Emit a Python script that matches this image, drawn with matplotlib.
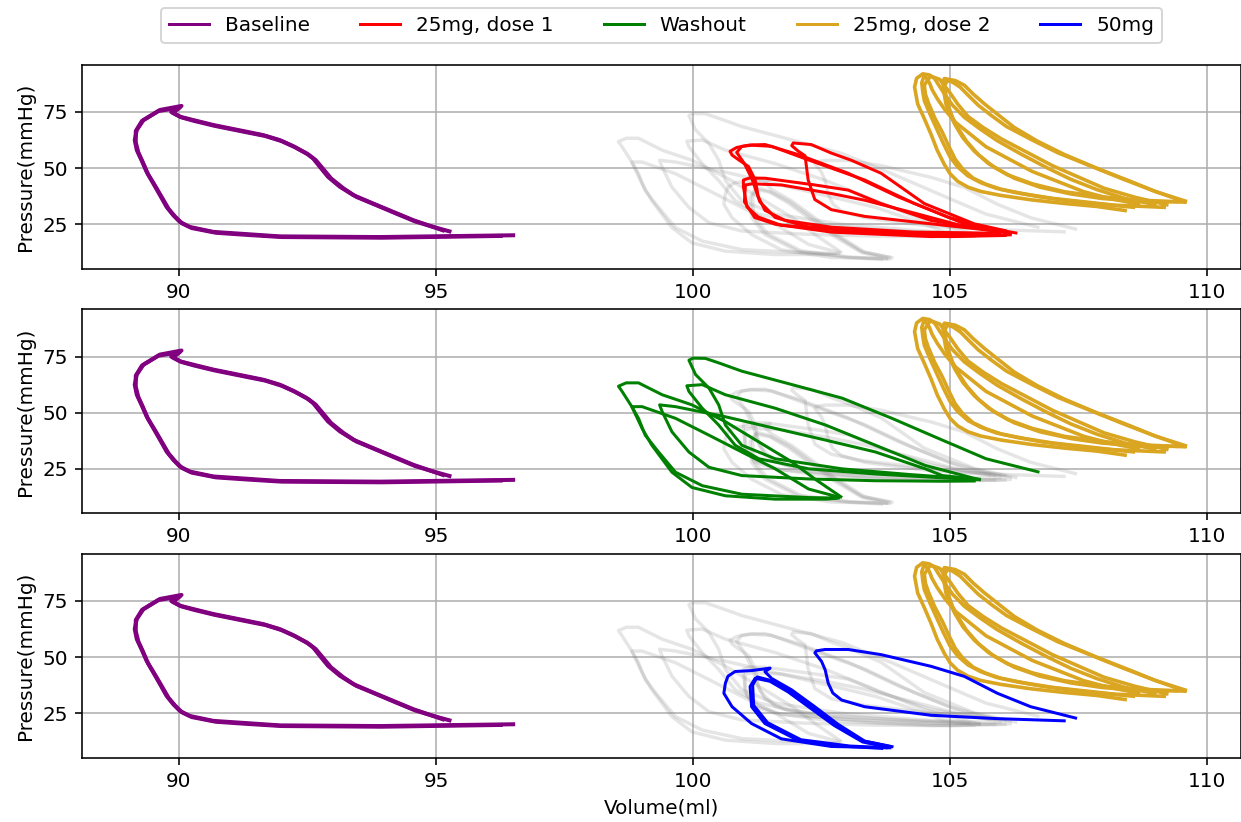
import matplotlib
matplotlib.use("Agg")
import matplotlib.pyplot as plt
from matplotlib.lines import Line2D

# ---------------- data (Volume in ml, Pressure in mmHg) ----------------
series_names = ["Baseline", "25mg, dose 1", "Washout", "25mg, dose 2", "50mg"]
series_colors = ["purple", "red", "green", "goldenrod", "blue"]

baseline_volume = [
    [95.17, 94.88, 94.56, 94.17, 93.78, 93.39, 93.13, 92.90, 92.74, 92.61, 92.48, 92.22, 91.96,
     91.64, 91.32, 90.67, 90.28, 90.02, 89.85, 90.05, 89.63, 89.31, 89.18, 89.14, 89.18, 89.27,
     89.37, 89.50, 89.63, 89.76, 89.89, 90.02, 90.21, 90.67, 91.32, 91.96, 93.91, 96.54],
    [95.30, 94.95, 94.60, 94.22, 93.85, 93.45, 93.20, 92.96, 92.80, 92.66, 92.52, 92.26, 92.00,
     91.68, 91.35, 90.70, 90.30, 90.05, 89.88, 90.02, 89.60, 89.28, 89.16, 89.16, 89.21, 89.30,
     89.40, 89.54, 89.67, 89.80, 89.93, 90.06, 90.25, 90.72, 91.36, 92.00, 93.95, 96.30],
]
baseline_pressure = [
    [22.0, 24.3, 26.8, 30.5, 34.2, 38.0, 41.7, 46.1, 50.6, 54.3, 56.6, 59.8, 62.5,
     64.7, 66.2, 69.2, 71.4, 72.9, 75.0, 77.7, 75.9, 71.4, 67.0, 62.5, 58.0, 53.6,
     48.4, 43.2, 38.0, 32.7, 29.0, 26.0, 23.8, 21.6, 20.6, 19.6, 19.3, 20.1],
    [21.6, 23.8, 26.2, 29.8, 33.4, 37.2, 41.0, 45.4, 49.8, 53.6, 56.0, 59.3, 62.0,
     64.3, 65.8, 68.8, 71.0, 72.6, 74.6, 77.0, 75.4, 71.0, 66.5, 61.5, 57.0, 52.5,
     47.2, 42.0, 36.9, 31.8, 28.3, 25.4, 23.3, 21.2, 20.2, 19.3, 19.0, 19.8],
]

dose1_volume = [
    [106.00, 104.96, 103.99, 103.02, 102.05, 101.40, 101.10, 100.85, 100.72, 100.76, 100.90,
     101.08, 101.21, 101.27, 101.40, 101.79, 102.69, 104.30, 106.00],
    [106.10, 105.47, 104.50, 103.66, 103.08, 102.69, 102.30, 101.95, 101.92, 102.05, 102.18,
     102.24, 102.37, 102.69, 103.34, 104.63, 105.90],
    [105.80, 104.63, 103.66, 103.02, 102.37, 101.40, 101.10, 100.98, 100.98, 101.05, 101.27,
     101.72, 103.02, 104.63, 105.90],
    [106.20, 105.20, 104.30, 103.34, 102.69, 101.72, 101.15, 101.02, 101.00, 101.20, 101.60,
     102.69, 104.63, 106.20],
    [106.31, 105.28, 104.31, 103.34, 102.24, 101.53, 101.15, 100.95, 100.85, 101.00, 101.15,
     101.30, 101.60, 102.20, 103.50, 105.00, 106.10],
]
dose1_pressure = [
    [21.5, 28.2, 37.2, 47.7, 56.0, 60.5, 60.3, 59.2, 57.5, 55.8, 53.5, 50.7, 44.7, 37.2,
     31.2, 26.7, 23.7, 21.5, 21.0],
    [22.0, 25.2, 34.2, 47.7, 53.5, 56.7, 60.5, 61.2, 60.0, 57.5, 55.5, 44.7, 36.0, 31.5, 28.5,
     25.2, 22.0],
    [22.2, 26.7, 34.2, 40.2, 42.5, 45.5, 45.6, 44.7, 41.7, 32.7, 28.2, 24.5, 22.2, 20.7, 20.0],
    [21.0, 24.5, 30.0, 35.7, 38.7, 42.5, 43.0, 42.5, 35.0, 28.0, 25.0, 21.5, 19.5, 20.3],
    [21.0, 25.2, 34.2, 44.7, 53.7, 59.7, 60.2, 59.7, 57.0, 52.0, 45.0, 35.0, 28.0, 24.0,
     21.0, 19.5, 20.0],
]

washout_volume = [
    [106.74, 105.70, 104.78, 103.87, 102.90, 101.93, 100.95, 100.50, 100.24, 100.00, 99.92,
     100.05, 100.31, 100.50, 100.63, 100.95, 101.60, 102.90, 104.20, 105.40],
    [102.90, 102.40, 101.93, 101.28, 100.63, 99.98, 99.40, 99.07, 98.94, 98.70, 98.55, 98.62,
     98.81, 99.01, 99.20, 99.59, 99.98, 100.63, 101.60, 102.58, 102.85],
    [102.87, 102.25, 101.60, 100.95, 100.31, 99.66, 99.01, 98.81, 98.94, 99.07, 99.33, 99.66,
     100.18, 100.95, 102.25, 102.80],
    [105.60, 104.85, 104.52, 103.55, 102.58, 101.60, 100.63, 99.66, 99.35, 99.40, 99.59,
     99.92, 100.31, 100.95, 102.25, 103.55, 104.85, 105.50],
    [105.60, 104.52, 103.55, 102.58, 101.60, 100.63, 100.18, 99.88, 99.92, 100.18, 100.50,
     100.82, 101.28, 102.25, 103.55, 104.85, 105.55],
]
washout_pressure = [
    [23.5, 29.5, 38.5, 47.5, 56.5, 62.5, 68.5, 72.2, 74.2, 74.3, 73.4, 67.0, 61.0, 53.5, 44.5,
     35.5, 29.5, 25.0, 22.5, 20.5],
    [12.2, 20.0, 28.0, 37.0, 46.0, 53.5, 58.0, 61.8, 63.3, 63.3, 61.8, 59.5, 52.7, 43.0, 35.5,
     23.5, 16.7, 13.0, 11.5, 11.5, 12.0],
    [12.2, 16.0, 25.0, 32.5, 40.0, 47.5, 52.7, 52.7, 47.5, 40.0, 32.5, 23.5, 17.5, 13.7, 12.2,
     12.0],
    [20.3, 22.0, 25.0, 32.5, 37.8, 43.0, 48.2, 52.7, 53.5, 50.5, 41.5, 32.5, 25.7, 22.0, 20.5,
     19.7, 19.5, 19.6],
    [20.0, 26.5, 35.5, 44.5, 52.0, 58.0, 62.5, 62.0, 59.5, 52.0, 44.5, 35.5, 29.5, 25.0, 22.7,
     21.0, 20.2],
]

dose2_volume = [
    [109.02, 108.40, 107.86, 107.35, 106.89, 106.40, 105.92, 105.58, 105.28, 105.05, 104.89,
     104.78, 104.70, 104.60, 104.47, 104.35, 104.31, 104.37, 104.50, 104.63, 104.75, 104.89,
     105.00, 105.15, 105.35, 105.60, 106.00, 106.57, 107.20, 107.86, 108.44],
    [108.70, 108.10, 107.60, 107.10, 106.60, 106.15, 105.70, 105.40, 105.10, 104.90, 104.75,
     104.65, 104.60, 104.50, 104.45, 104.47, 104.50, 104.62, 104.75, 104.87, 105.00, 105.15,
     105.35, 105.60, 105.90, 106.30, 106.80, 107.30, 107.90, 108.60],
    [109.25, 108.60, 108.00, 107.50, 107.00, 106.50, 106.00, 105.65, 105.35, 105.15, 105.00,
     104.90, 104.80, 104.62, 104.50, 104.52, 104.58, 104.70, 104.85, 104.97, 105.10, 105.25,
     105.45, 105.70, 106.00, 106.45, 107.00, 107.60, 108.20, 109.20],
    [109.61, 109.00, 108.51, 107.85, 107.22, 106.70, 106.25, 105.95, 105.67, 105.45, 105.28,
     105.10, 104.89, 104.86, 104.88, 104.92, 105.00, 105.09, 105.25, 105.47, 105.75, 106.12,
     106.60, 107.22, 107.85, 108.51, 109.60],
    [109.50, 108.95, 108.40, 107.75, 107.10, 106.60, 106.10, 105.80, 105.55, 105.35, 105.20,
     105.05, 104.95, 104.90, 104.92, 104.97, 105.05, 105.15, 105.32, 105.55, 105.85, 106.25,
     106.75, 107.35, 107.95, 108.60, 109.45],
]
dose2_pressure = [
    [33.6, 36.5, 40.4, 45.0, 50.1, 56.0, 62.2, 67.5, 72.6, 78.0, 83.1, 87.0, 89.9, 91.5, 92.0,
     90.0, 86.1, 78.6, 72.0, 65.1, 58.0, 51.6, 47.5, 44.1, 41.5, 39.6, 37.8, 35.9, 34.3, 32.9,
     31.0],
    [33.8, 36.5, 39.5, 44.0, 48.5, 54.0, 59.5, 65.0, 70.5, 76.0, 81.0, 85.0, 88.0, 91.5, 88.0,
     84.0, 80.0, 73.5, 67.0, 61.0, 55.0, 50.5, 46.5, 43.5, 41.0, 39.0, 37.0, 35.5, 34.0, 32.5],
    [33.5, 37.0, 41.0, 46.0, 51.0, 57.0, 63.0, 68.0, 73.0, 78.5, 83.5, 86.5, 89.5, 91.0, 87.0,
     83.0, 79.0, 72.5, 66.0, 60.0, 54.0, 49.5, 45.5, 42.8, 40.5, 38.5, 36.5, 35.0, 33.5, 32.5],
    [35.1, 39.5, 44.1, 50.0, 56.1, 62.0, 68.1, 73.5, 78.6, 83.0, 86.9, 89.0, 89.9, 88.4, 84.0,
     78.6, 74.0, 69.6, 63.5, 57.6, 52.0, 47.0, 43.0, 39.5, 37.5, 35.9, 34.8],
    [35.5, 40.0, 44.8, 50.8, 56.8, 62.5, 68.5, 73.5, 78.0, 82.5, 86.0, 88.3, 89.0, 87.0, 82.0,
     77.5, 72.5, 68.0, 62.0, 56.0, 50.5, 45.5, 41.5, 38.5, 36.5, 35.3, 35.0],
]

dose50_volume = [
    [107.47, 106.57, 105.92, 105.28, 104.63, 103.66, 103.02, 102.57, 102.40, 102.37, 102.50,
     102.57, 102.63, 102.72, 102.89, 103.34, 104.63, 105.92, 107.25],
    [103.90, 103.34, 102.82, 102.37, 101.92, 101.53, 101.40, 101.50, 101.14, 100.82, 100.68,
     100.63, 100.60, 100.76, 101.14, 101.72, 102.69, 103.86],
    [103.80, 103.30, 102.75, 102.30, 101.85, 101.50, 101.21, 101.11, 101.14, 101.40, 102.05,
     103.02, 103.70],
    [103.85, 103.28, 102.78, 102.33, 101.88, 101.48, 101.25, 101.16, 101.18, 101.45, 102.10,
     103.05, 103.80],
]
dose50_pressure = [
    [22.7, 27.9, 33.9, 41.4, 45.9, 51.1, 53.4, 53.4, 52.8, 51.9, 48.1, 44.4, 38.4, 34.0, 30.9,
     27.9, 24.1, 22.6, 21.6],
    [10.0, 12.6, 20.1, 27.9, 35.4, 40.5, 43.5, 45.1, 44.0, 43.6, 41.5, 38.4, 33.9, 27.9, 20.4,
     13.6, 10.2, 9.6],
    [9.8, 12.2, 19.5, 27.0, 34.5, 39.2, 40.6, 36.9, 27.9, 20.4, 12.9, 10.2, 9.3],
    [10.1, 12.8, 20.0, 27.5, 35.0, 39.8, 41.2, 37.5, 28.5, 20.8, 13.2, 10.4, 9.6],
]

x_label = "Volume(ml)"
y_label = "Pressure(mmHg)"

# ---------------- figure ----------------
DPI = 144
fig = plt.figure(figsize=(1241 / DPI, 822 / DPI), dpi=DPI)

left = 82.3 / 1241
width = 1 - left
panel_bottoms = [1 - 268.7 / 822, 1 - 513.3 / 822, 1 - 757.7 / 822]
panel_height = 0.248

highlight = [
    (dose1_volume, dose1_pressure, series_colors[1]),
    (washout_volume, washout_pressure, series_colors[2]),
    (dose50_volume, dose50_pressure, series_colors[4]),
]

style = dict(solid_joinstyle="round", solid_capstyle="butt")

axes = []
for i, b in enumerate(panel_bottoms):
    ax = fig.add_axes([left, b, width, panel_height])
    axes.append(ax)
    # grey background loops: the other two middle series
    for j, (vv, pp, c) in enumerate(highlight):
        if j == i:
            continue
        for v, p in zip(vv, pp):
            ax.plot(v, p, color="grey", alpha=0.2, lw=1.7, **style)
    for v, p in zip(baseline_volume, baseline_pressure):
        ax.plot(v, p, color=series_colors[0], lw=2.0, **style)
    for v, p in zip(dose2_volume, dose2_pressure):
        ax.plot(v, p, color=series_colors[3], lw=1.8, **style)
    vv, pp, c = highlight[i]
    for v, p in zip(vv, pp):
        ax.plot(v, p, color=c, lw=1.5, **style)

    ax.set_xlim(88.12, 110.66)
    ax.set_ylim(5.2, 96.0)
    ax.set_xticks([90, 95, 100, 105, 110])
    ax.set_yticks([25, 50, 75])
    ax.grid(True)
    ax.set_axisbelow(True)
    ax.set_ylabel(y_label)

axes[-1].set_xlabel(x_label)

handles = [Line2D([0], [0], color=c, lw=1.5) for c in series_colors]
axes[0].legend(handles, series_names, loc="lower center", ncol=5,
               bbox_to_anchor=(0.5, 1.105), borderaxespad=0, columnspacing=2.5)

fig.savefig("out.png", dpi=DPI)
